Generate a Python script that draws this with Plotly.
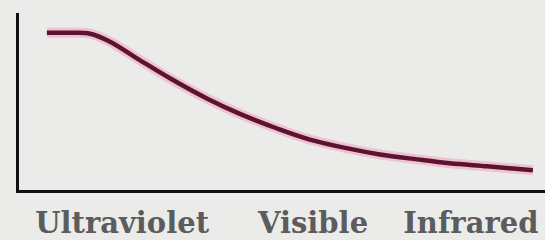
import plotly.graph_objects as go

# Relative position along the spectrum (0-100) and relative intensity (0-100)
wavelength = [5.3, 9.7, 13.5, 17.3, 22.8, 28.7, 35.9, 42.0, 49.2, 55.3, 62.5, 68.6, 75.7, 81.9, 89.0, 97.7]
intensity = [88.8, 88.8, 88.3, 83.8, 73.7, 63.1, 51.4, 43.0, 34.6, 28.5, 23.5, 20.1, 17.3, 15.1, 13.4, 11.2]

region_labels = ["Ultraviolet", "Visible", "Infrared"]
region_pos = [19.6, 55.9, 85.9]

fig = go.Figure()
fig.add_trace(go.Scatter(x=wavelength, y=intensity, mode="lines",
                         line=dict(color="rgba(240,120,160,0.35)", width=10, shape="spline"),
                         hoverinfo="skip", showlegend=False))
fig.add_trace(go.Scatter(x=wavelength, y=intensity, mode="lines",
                         line=dict(color="#5e1232", width=4.5, shape="spline"),
                         showlegend=False))

fig.update_layout(
    width=545, height=240,
    margin=dict(l=19, r=0, t=13, b=48),
    paper_bgcolor="#ebebe9", plot_bgcolor="#ebebe9",
    xaxis=dict(range=[0, 100], showgrid=False, zeroline=False,
               showline=True, linecolor="#111111", linewidth=3,
               tickvals=region_pos, ticktext=region_labels, ticks="",
               ticklabelstandoff=5,
               tickfont=dict(family="DejaVu Serif", size=29, color="#5c5c5c", weight="bold")),
    yaxis=dict(range=[0, 100], showgrid=False, zeroline=False,
               showline=True, linecolor="#111111", linewidth=3,
               showticklabels=False, ticks=""),
)

fig.write_html("out.html", config={"displayModeBar": False},
               post_script="document.body.style.margin='0';document.body.style.background='#ebebe9';")
